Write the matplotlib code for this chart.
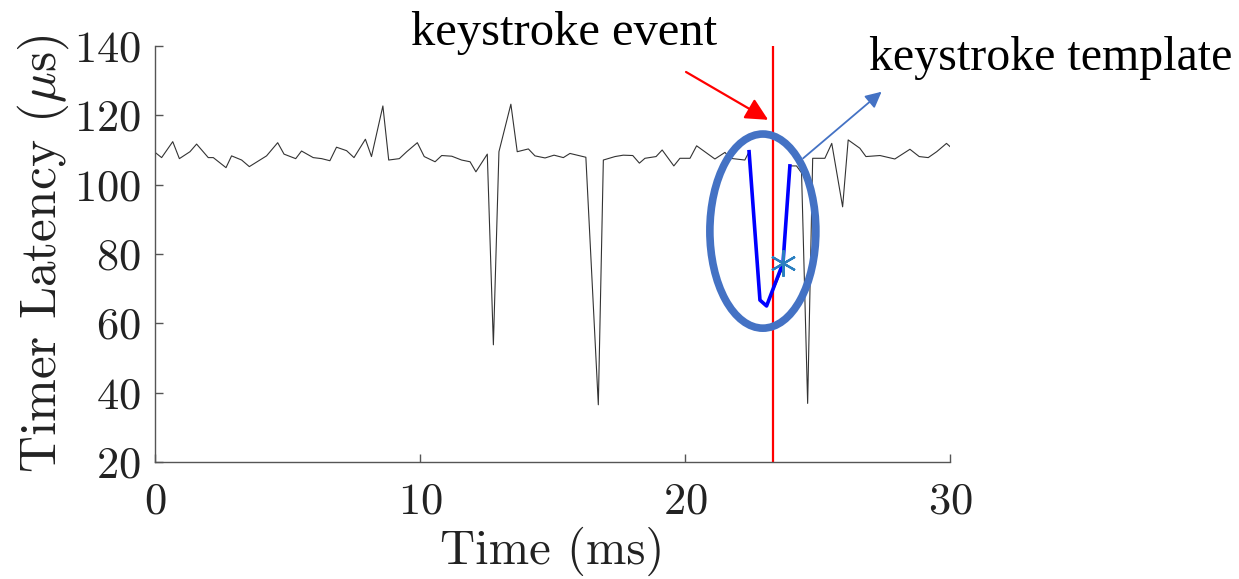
import numpy as np
import matplotlib
matplotlib.use("Agg")
import matplotlib.pyplot as plt
from matplotlib.patches import Ellipse

plt.rcParams['font.family'] = 'serif'
plt.rcParams['font.serif'] = ['cmr10']
plt.rcParams['mathtext.fontset'] = 'cm'
plt.rcParams['axes.formatter.use_mathtext'] = True

# timer latency trace (time in ms, latency in us)
t_trace = [0.02, 0.25, 0.67, 0.92, 1.32, 1.57, 2.01, 2.2, 2.68, 2.89, 3.27, 3.56,
           4.21, 4.63, 4.87, 5.31, 5.53, 5.97, 6.29, 6.6, 6.85, 7.23, 7.51, 7.94,
           8.17, 8.6, 8.82, 9.22, 9.5, 9.9, 10.16, 10.57, 10.82, 11.2, 11.57, 11.89,
           12.11, 12.54, 12.77, 12.98, 13.43, 13.67, 14.09, 14.34, 14.72, 15.06,
           15.41, 15.66, 16.26, 16.73, 16.92, 17.36, 17.67, 18.03, 18.28, 18.49,
           18.91, 19.14, 19.58, 19.81, 20.19, 20.44, 21.13, 21.51, 21.70, 22.26,
           22.42, 22.83, 23.08, 23.71, 23.96, 24.21, 24.40, 24.63, 24.82, 25.28,
           25.54, 25.95, 26.16, 26.6, 26.83, 27.36, 27.92, 28.49, 28.84, 29.18,
           29.5, 29.87, 30.0]
lat_trace = [109.2, 107.8, 112.4, 107.5, 109.5, 111.7, 107.8, 107.8, 104.9, 108.3, 107.1, 105.2,
             108.3, 112.1, 108.8, 107.5, 109.7, 107.8, 107.5, 106.9, 110.8, 109.8, 107.8, 113.1,
             108.1, 122.7, 107.1, 107.5, 109.5, 112.1, 108.1, 106.6, 108.4, 108.2, 107.1, 106.6,
             103.7, 108.8, 53.8, 109.5, 123.2, 109.5, 110.3, 108.3, 107.7, 108.5,
             107.8, 109.0, 107.9, 36.5, 107.1, 108.1, 108.5, 108.4, 106.2, 107.6,
             108.1, 110.0, 105.4, 107.6, 107.6, 111.2, 107.4, 109.3, 107.6, 107.1,
             109.5, 66.7, 65.0, 76.3, 105.4, 105.4, 103.4, 36.9, 107.6, 107.6,
             111.9, 93.6, 112.9, 110.5, 108.1, 108.4, 107.4, 110.2, 108.1, 107.8,
             109.5, 111.9, 111.0]

# matched keystroke template
t_tpl = [22.42, 22.83, 23.08, 23.70, 23.96]
lat_tpl = [109.5, 66.7, 65.0, 77.4, 105.4]

event_time = 23.32
match_point = (23.70, 77.4)

fig = plt.figure(figsize=(12.39, 5.79), dpi=100)
ax = fig.add_axes([0.1251, 0.2021, 0.6416, 0.7185])

ax.plot(t_trace, lat_trace, color='#333333', lw=0.8)
ax.plot(t_tpl, lat_tpl, color='#0000ff', lw=2.6, zorder=3)
# asterisk marker like matlab's '*'
ax.plot(*match_point, marker=(6, 2, 0), color='#2a7fc0', ms=19, mew=1.6, zorder=4,
        linestyle='none')
ax.axvline(event_time, color='#ff0000', lw=1.6, zorder=2)

ax.add_patch(Ellipse((22.94, 86.6), 4.0, 56, fill=False, edgecolor='#4472c4',
                     lw=5.5, zorder=5, clip_on=False))

ax.annotate('', xy=(23.14, 118.7), xytext=(20.04, 132.5),
            arrowprops=dict(arrowstyle='-|>', color='#ff0000', lw=1.6,
                            mutation_scale=34, shrinkA=0, shrinkB=0),
            annotation_clip=False)
ax.annotate('', xy=(27.42, 126.8), xytext=(24.46, 107.6),
            arrowprops=dict(arrowstyle='-|>', color='#4472c4', lw=1.3,
                            mutation_scale=24, shrinkA=0, shrinkB=0),
            annotation_clip=False)

fig.text(0.455, 0.922, 'keystroke event', family='Liberation Serif',
         fontsize=35, ha='center', va='baseline')
fig.text(0.848, 0.879, 'keystroke template', family='Liberation Serif',
         fontsize=34.5, ha='center', va='baseline')

ax.set_xlim(0, 30)
ax.set_ylim(20, 140)
ax.set_xticks([0, 10, 20, 30])
ax.set_yticks(np.arange(20, 141, 20))

for side in ['top', 'right']:
    ax.spines[side].set_visible(False)
for side in ['left', 'bottom']:
    ax.spines[side].set_color('#555555')
    ax.spines[side].set_linewidth(1.0)

ax.tick_params(direction='in', length=6, width=1.0, color='#555555',
               labelsize=32, labelcolor='#222222')
ax.tick_params(axis='y', pad=10)
ax.tick_params(axis='x', pad=15)

ax.set_xlabel('Time (ms)', fontsize=35, color='#222222', labelpad=3)
ax.set_ylabel(r'Timer Latency ($\mu$s)', fontsize=37, color='#222222', labelpad=2)

fig.savefig('out.png', dpi=100)
